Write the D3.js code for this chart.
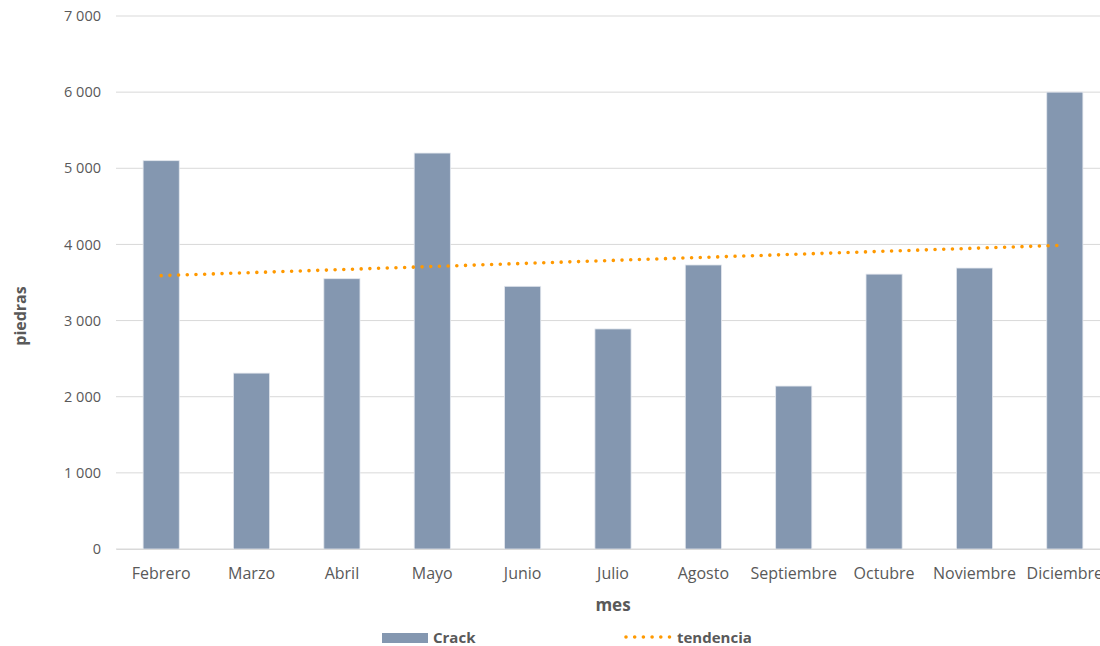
<!DOCTYPE html>
<html><head><meta charset="utf-8">
<script src="https://cdn.jsdelivr.net/npm/d3@7"></script>
<style>body{margin:0;background:#fff}svg{display:block;font-family:"Open Sans",sans-serif}</style>
</head><body>
<svg id="c" width="1100" height="646"></svg>
<script>
const categories = ["Febrero","Marzo","Abril","Mayo","Junio","Julio","Agosto","Septiembre","Octubre","Noviembre","Diciembre"];
const crack = [5100, 2310, 3550, 5200, 3450, 2890, 3730, 2140, 3610, 3690, 6000];
const trendEnds = [3590, 3990]; // tendencia at Febrero and Diciembre
const yTicks = [0,1000,2000,3000,4000,5000,6000,7000];

const svg = d3.select("#c");
const mL = 116, mR = 1110, mT = 16, mB = 549;
const x = d3.scaleBand().domain(categories).range([mL, mR]).paddingInner(0.6).paddingOuter(0.3);
const y = d3.scaleLinear().domain([0, 7000]).range([mB, mT]);
const fmt = v => d3.format(",")(v).replace(/,/g, " ");

// gridlines
svg.append("g").selectAll("line").data(yTicks).join("line")
  .attr("x1", mL).attr("x2", 1100).attr("y1", d => y(d)).attr("y2", d => y(d))
  .attr("stroke", "#D9D9D9").attr("stroke-width", 1);

// y axis labels
const yAxis = svg.append("g").attr("transform", `translate(${mL},0)`)
  .call(d3.axisLeft(y).tickValues(yTicks).tickFormat(fmt).tickSize(0).tickPadding(15));
yAxis.select(".domain").remove();
yAxis.selectAll("text").attr("fill", "#595959").attr("font-size", 14.5).attr("font-family", "Open Sans");

// bars
svg.append("g").selectAll("rect").data(crack).join("rect")
  .attr("x", (d, i) => x(categories[i])).attr("width", x.bandwidth())
  .attr("y", d => y(d)).attr("height", d => y(0) - y(d))
  .attr("fill", "#8497B0").attr("stroke", "#E3E7EE").attr("stroke-width", 0.8);

// x axis
const xAxis = svg.append("g").attr("transform", `translate(0,${mB})`)
  .call(d3.axisBottom(x).tickSize(0).tickPadding(19));
xAxis.select(".domain").attr("stroke", "#D9D9D9");
xAxis.selectAll("text").attr("fill", "#595959").attr("font-size", 16).attr("font-family", "Open Sans");

// trend line
const tx = [x(categories[0]) + x.bandwidth()/2, x(categories[categories.length-1]) + x.bandwidth()/2];
svg.append("line")
  .attr("x1", tx[0]).attr("x2", tx[1]).attr("y1", y(trendEnds[0])).attr("y2", y(trendEnds[1]))
  .attr("stroke", "#FF9900").attr("stroke-width", 3.6).attr("stroke-linecap", "round")
  .attr("stroke-dasharray", "0 8.7");

// axis titles
svg.append("text").attr("x", (mL + mR)/2).attr("y", 611).attr("text-anchor", "middle")
  .attr("font-size", 17).attr("font-weight", "bold").attr("fill", "#595959").text("mes");
svg.append("text").attr("transform", "translate(26,316) rotate(-90)").attr("text-anchor", "middle")
  .attr("font-size", 16).attr("font-weight", "bold").attr("fill", "#595959").text("piedras");

// legend
const lg = svg.append("g");
lg.append("rect").attr("x", 382).attr("y", 633).attr("width", 46).attr("height", 10).attr("fill", "#8497B0");
lg.append("text").attr("x", 433).attr("y", 643).attr("font-size", 15).attr("font-weight", "bold").attr("fill", "#595959").text("Crack");
lg.append("line").attr("x1", 626).attr("x2", 672).attr("y1", 637).attr("y2", 637)
  .attr("stroke", "#FF9900").attr("stroke-width", 3.6).attr("stroke-linecap", "round").attr("stroke-dasharray", "0 8.7");
lg.append("text").attr("x", 677).attr("y", 643).attr("font-size", 15).attr("font-weight", "bold").attr("fill", "#595959").text("tendencia");
</script>
</body></html>
